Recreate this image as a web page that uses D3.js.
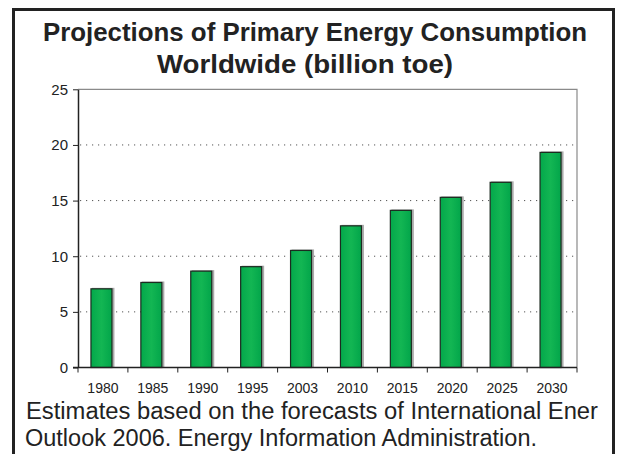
<!DOCTYPE html>
<html>
<head>
<meta charset="utf-8">
<script src="https://cdn.jsdelivr.net/npm/d3@7"></script>
<style>
  body { margin: 0; background: #fff; }
  svg { display: block; font-family: "Liberation Sans", Arial, sans-serif; }
  .grid line { stroke: #555; stroke-dasharray: 1.2, 4.8; }
  .axis text { fill: #222; }
  .axis path, .axis line { stroke: #222; }
</style>
</head>
<body>
<script>
var w = 620;
var h = 454;

// data
var years = ["1980", "1985", "1990", "1995", "2003", "2010", "2015", "2020", "2025", "2030"];
var consumption = [7.07, 7.64, 8.66, 9.06, 10.52, 12.73, 14.12, 15.29, 16.64, 19.33];
var yTicks = [0, 5, 10, 15, 20, 25];
var titleLines = ["Projections of Primary Energy Consumption", "Worldwide (billion toe)"];
var noteLines = ["Estimates based on the forecasts of International Ener",
                 "Outlook 2006. Energy Information Administration."];

var plotLeft = 78, plotRight = 577, plotTop = 89.3, plotBottom = 367.5;

var svg = d3.select("body")
    .append("svg")
    .attr("width", w)
    .attr("height", h);

// outer frame
svg.append("rect")
    .attr("x", 13.5)
    .attr("y", 9.5)
    .attr("width", 600)
    .attr("height", 470)
    .attr("fill", "none")
    .attr("stroke", "#222")
    .attr("stroke-width", 3);

var titleW = [544, 296];
svg.selectAll(".title")
    .data(titleLines)
    .enter().append("text")
    .attr("class", "title")
    .attr("x", function(d, i) { return i == 0 ? 43 : 157; })
    .attr("y", function(d, i) { return 40.5 + i * 32; })
    .attr("font-size", "25px")
    .attr("font-weight", "bold")
    .attr("fill", "#222")
    .attr("textLength", function(d, i) { return titleW[i]; })
    .attr("lengthAdjust", "spacingAndGlyphs")
    .text(function(d) { return d; });

var xScale = d3.scaleBand()
    .domain(years)
    .range([plotLeft, plotRight]);

var yScale = d3.scaleLinear()
    .domain([0, 25])
    .range([plotBottom, plotTop]);

// dotted gridlines
svg.append("g")
    .attr("class", "grid")
    .selectAll("line")
    .data(yTicks.filter(function(d) { return d > 0 && d < 25; }))
    .enter().append("line")
    .attr("x1", plotLeft + 2)
    .attr("x2", plotRight)
    .attr("y1", function(d) { return yScale(d); })
    .attr("y2", function(d) { return yScale(d); });

// plot frame top and right
svg.append("path")
    .attr("d", "M" + plotLeft + "," + yScale(25) + "H" + plotRight + "V" + yScale(0))
    .attr("fill", "none")
    .attr("stroke", "#8a8a8a")
    .attr("stroke-width", 1.2);

var defs = svg.append("defs");
var grad = defs.append("linearGradient")
    .attr("id", "barFill")
    .attr("x1", "0").attr("x2", "1").attr("y1", "0").attr("y2", "0");
grad.append("stop").attr("offset", "0%").attr("stop-color", "#03a84b");
grad.append("stop").attr("offset", "50%").attr("stop-color", "#13b653");
grad.append("stop").attr("offset", "100%").attr("stop-color", "#02a54a");

var barW = 21;

// bar shadows
svg.selectAll(".shadow")
    .data(consumption)
    .enter().append("rect")
    .attr("class", "shadow")
    .attr("x", function(d, i) { return xScale(years[i]) + xScale.bandwidth() / 2 - barW / 2 - 0.5; })
    .attr("y", function(d) { return yScale(d) - 1; })
    .attr("width", barW + 1.5)
    .attr("height", function(d) { return yScale(0) - yScale(d) + 1; })
    .attr("fill", "#aaa");

svg.selectAll(".bar")
    .data(consumption)
    .enter().append("rect")
    .attr("class", "bar")
    .attr("x", function(d, i) { return xScale(years[i]) + xScale.bandwidth() / 2 - barW / 2 - 1.5; })
    .attr("y", function(d) { return yScale(d); })
    .attr("width", barW)
    .attr("height", function(d) { return yScale(0) - yScale(d); })
    .attr("fill", "url(#barFill)")
    .attr("stroke", "#1c2a20")
    .attr("stroke-width", 1.2);

// y axis
var yAxis = d3.axisLeft(yScale)
    .tickValues(yTicks)
    .tickSize(5)
    .tickSizeOuter(0)
    .tickPadding(5);

svg.append("g")
    .attr("class", "axis")
    .attr("transform", "translate(" + plotLeft + ",0)")
    .call(yAxis)
    .call(function(g) { g.select(".domain").attr("stroke-width", 1.5); })
    .call(function(g) { g.selectAll("text").style("font-size", "15px"); });

// x axis: line, ticks at band edges, labels at band centres
var xAxis = svg.append("g").attr("class", "axis");

xAxis.append("line")
    .attr("x1", plotLeft - 5)
    .attr("x2", plotRight)
    .attr("y1", yScale(0))
    .attr("y2", yScale(0))
    .attr("stroke-width", 1.5);

var edges = years.map(function(d) { return xScale(d); }).concat([xScale.range()[1]]);

xAxis.selectAll(".edge")
    .data(edges)
    .enter().append("line")
    .attr("class", "edge")
    .attr("x1", function(d) { return d; })
    .attr("x2", function(d) { return d; })
    .attr("y1", yScale(0))
    .attr("y2", yScale(0) + 5);

xAxis.selectAll(".lab")
    .data(years)
    .enter().append("text")
    .attr("class", "lab")
    .attr("x", function(d) { return xScale(d) + xScale.bandwidth() / 2; })
    .attr("y", 393)
    .attr("text-anchor", "middle")
    .style("font-size", "14px")
    .text(function(d) { return d; });

var noteW = [572, 512];
svg.selectAll(".note")
    .data(noteLines)
    .enter().append("text")
    .attr("class", "note")
    .attr("x", function(d, i) { return i == 0 ? 26 : 25; })
    .attr("y", function(d, i) { return 418.5 + i * 27; })
    .attr("font-size", "23px")
    .attr("fill", "#222")
    .attr("textLength", function(d, i) { return noteW[i]; })
    .attr("lengthAdjust", "spacingAndGlyphs")
    .text(function(d) { return d; });
</script>
</body>
</html>
